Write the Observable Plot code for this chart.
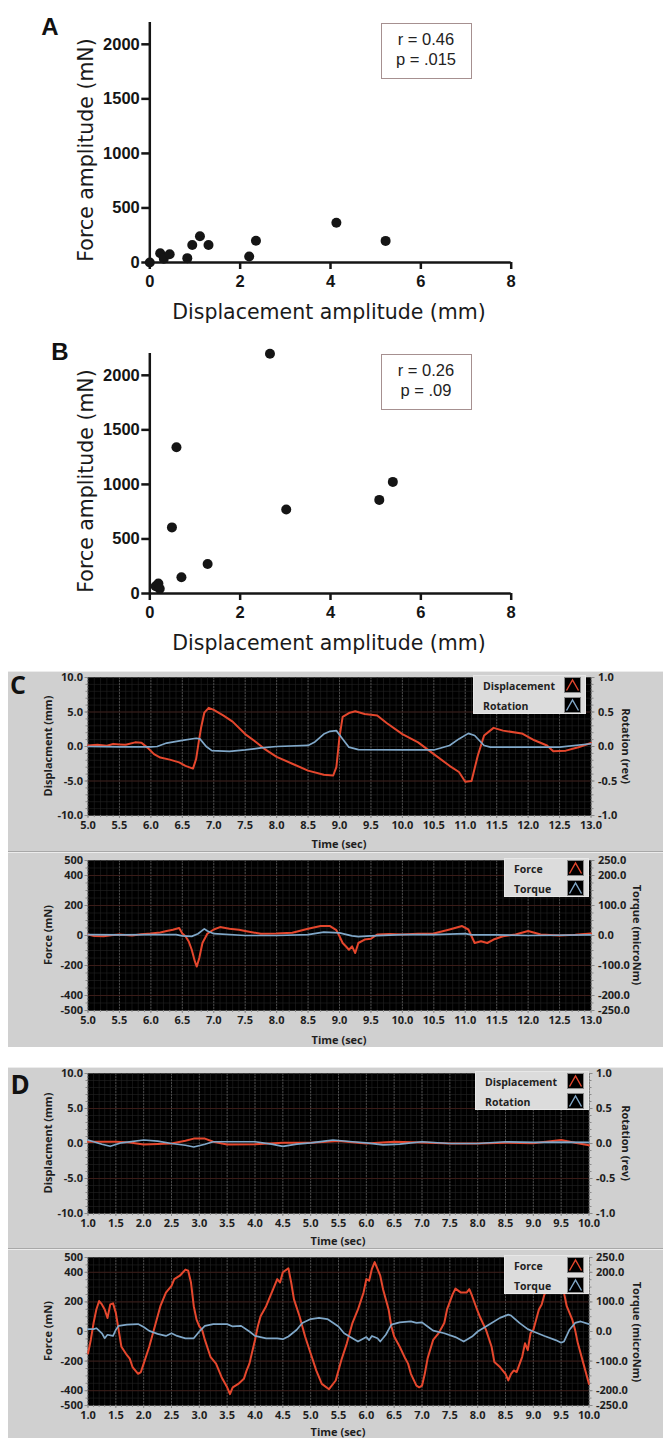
<!DOCTYPE html>
<html><head><meta charset="utf-8">
<script src="https://cdn.jsdelivr.net/npm/d3@7"></script>
<script src="https://cdn.jsdelivr.net/npm/@observablehq/plot@0.6"></script>
<style>
body{margin:0;background:#fff;}
#root{position:relative;width:663px;height:1438px;overflow:hidden;background:#fff;}
.lbl{position:absolute;white-space:nowrap;line-height:1;transform-origin:center center;}
</style>
</head><body><div id="root"></div>
<script>
// ---------- DATA ----------
// Panel A
const aDisp  = [0, 0.23, 0.31, 0.44, 0.83, 0.94, 1.11, 1.30, 2.20, 2.35, 4.13, 5.22];
const aForce = [0, 85, 35, 76, 40, 160, 240, 160, 55, 200, 365, 198];
// Panel B
const bDisp  = [0.13, 0.19, 0.22, 0.49, 0.59, 0.70, 1.28, 2.66, 3.02, 5.08, 5.38];
const bForce = [67, 91, 43, 606, 1340, 149, 271, 2198, 770, 858, 1023];
const abXTicks = [0, 2, 4, 6, 8];
const abYTicks = [0, 500, 1000, 1500, 2000];

// Panel C top: displacement (mm) and rotation (rev) vs time (s)
const cDisp = [[5.0,0.15],[5.15,0.25],[5.3,0.1],[5.4,0.35],[5.5,0.3],[5.6,0.25],[5.75,0.6],[5.85,0.55],[5.95,-0.2],[6.05,-1.1],[6.15,-1.6],[6.3,-1.9],[6.45,-2.3],[6.55,-2.8],[6.67,-3.2],[6.72,-1.8],[6.76,0.6],[6.8,2.8],[6.85,4.9],[6.92,5.6],[7.0,5.3],[7.15,4.5],[7.3,3.6],[7.5,1.8],[7.65,0.8],[7.8,-0.3],[8.0,-1.5],[8.25,-2.5],[8.5,-3.5],[8.75,-4.1],[8.9,-4.2],[8.95,-3.0],[9.0,1.4],[9.05,4.3],[9.15,4.85],[9.25,5.1],[9.4,4.7],[9.6,4.5],[9.75,3.4],[10.0,1.8],[10.25,0.6],[10.5,-1.1],[10.75,-2.8],[10.9,-3.7],[11.0,-5.1],[11.1,-5.0],[11.2,-1.3],[11.3,1.6],[11.45,2.7],[11.6,2.3],[11.9,1.9],[12.1,0.9],[12.3,0.15],[12.4,-0.7],[12.6,-0.6],[12.8,-0.1],[13.0,0.5]];
const cRot = [[5.0,0.0],[5.5,-0.005],[6.0,-0.005],[6.1,0.0],[6.25,0.05],[6.5,0.09],[6.72,0.12],[6.78,0.11],[6.88,0.0],[6.97,-0.06],[7.25,-0.07],[7.5,-0.05],[7.75,-0.02],[8.0,0.0],[8.5,0.015],[8.6,0.06],[8.75,0.18],[8.85,0.22],[8.95,0.23],[9.05,0.11],[9.15,-0.01],[9.3,-0.045],[10.0,-0.05],[10.5,-0.05],[10.75,0.015],[10.9,0.11],[11.05,0.19],[11.15,0.16],[11.3,0.015],[11.4,-0.01],[12.0,-0.01],[12.5,-0.01],[13.0,0.04]];
// Panel C bottom: force (mN) and torque (microNm)
const cForce = [[5.0,7],[5.1,-3],[5.25,-5],[5.4,4],[5.5,7],[5.7,0],[5.85,9],[6.0,13],[6.15,20],[6.25,30],[6.35,38],[6.45,50],[6.5,13],[6.55,-5],[6.6,-38],[6.65,-95],[6.7,-173],[6.73,-207],[6.77,-150],[6.82,-50],[6.9,13],[7.0,40],[7.1,56],[7.25,45],[7.4,38],[7.5,30],[7.75,11],[8.0,13],[8.25,18],[8.5,45],[8.7,63],[8.85,63],[8.95,36],[9.0,-5],[9.05,-50],[9.1,-72],[9.15,-95],[9.2,-72],[9.25,-117],[9.3,-50],[9.4,-27],[9.5,-22],[9.6,7],[9.8,10],[10.0,7],[10.25,12],[10.5,13],[10.75,40],[10.95,63],[11.05,40],[11.1,-5],[11.15,-50],[11.25,-38],[11.35,-50],[11.45,-27],[11.6,-5],[11.8,7],[12.0,30],[12.2,7],[12.5,0],[12.75,5],[13.0,13]];
const cTorque = [[5.0,3],[5.5,2],[6.0,3],[6.4,3],[6.5,-1],[6.65,-3],[6.75,6],[6.85,22],[6.9,15],[7.0,6],[7.5,0],[8.0,0],[8.5,3],[8.75,11],[9.0,9],[9.2,-1],[9.3,-4],[9.5,-1],[10.0,3],[10.5,3],[11.0,6],[11.1,2],[11.5,2],[12.0,0],[13.0,2]];
// Panel D top
const dDisp = [[1.0,0.25],[1.5,0.25],[1.75,0.15],[2.0,-0.15],[2.5,0.0],[2.75,0.4],[2.9,0.7],[3.1,0.7],[3.25,0.25],[3.5,-0.15],[4.0,-0.1],[4.5,0.1],[5.0,0.1],[5.5,0.35],[6.0,0.0],[6.5,0.25],[7.0,0.15],[7.5,0.0],[8.0,0.0],[8.5,0.1],[9.0,0.05],[9.5,0.5],[9.75,0.1],[10.0,-0.25]];
const dRot = [[1.0,0.05],[1.25,-0.01],[1.4,-0.04],[1.6,0.01],[2.0,0.05],[2.25,0.035],[2.5,0.0],[2.75,-0.025],[2.9,-0.05],[3.1,-0.01],[3.25,0.025],[3.5,0.025],[4.0,0.025],[4.3,-0.01],[4.5,-0.04],[4.75,-0.01],[5.0,0.01],[5.25,0.035],[5.4,0.05],[5.75,0.025],[6.0,0.01],[6.3,-0.02],[6.6,-0.01],[7.0,0.025],[7.5,0.0],[8.0,0.0],[8.5,0.025],[9.0,0.015],[9.5,0.02],[10.0,0.015]];
// Panel D bottom
const dForce = [[1.0,-149],[1.05,-57],[1.1,57],[1.15,149],[1.2,206],[1.25,183],[1.3,149],[1.35,91],[1.4,183],[1.45,190],[1.5,126],[1.55,11],[1.6,-103],[1.7,-160],[1.75,-183],[1.8,-240],[1.9,-286],[1.95,-274],[2.0,-217],[2.1,-103],[2.2,34],[2.3,171],[2.4,263],[2.5,309],[2.55,354],[2.65,377],[2.75,418],[2.8,411],[2.85,331],[2.9,171],[2.95,80],[3.0,34],[3.05,11],[3.1,-57],[3.2,-171],[3.3,-217],[3.4,-309],[3.5,-377],[3.55,-423],[3.6,-377],[3.7,-354],[3.8,-320],[3.85,-263],[3.9,-217],[4.0,-57],[4.05,34],[4.1,103],[4.2,171],[4.3,263],[4.4,354],[4.45,331],[4.5,400],[4.6,427],[4.65,331],[4.7,217],[4.8,103],[4.9,-34],[5.0,-149],[5.1,-263],[5.2,-354],[5.33,-390],[5.45,-331],[5.55,-194],[5.65,-80],[5.75,57],[5.85,149],[5.95,263],[6.0,354],[6.05,343],[6.1,423],[6.15,469],[6.2,423],[6.25,377],[6.3,286],[6.4,149],[6.45,34],[6.5,-34],[6.6,-103],[6.7,-183],[6.75,-217],[6.8,-286],[6.9,-366],[6.95,-377],[7.0,-366],[7.05,-286],[7.1,-183],[7.2,-57],[7.3,-11],[7.4,57],[7.45,149],[7.55,251],[7.6,290],[7.7,263],[7.8,263],[7.85,286],[7.9,240],[8.0,137],[8.05,91],[8.15,11],[8.25,-103],[8.3,-206],[8.4,-240],[8.5,-286],[8.55,-331],[8.6,-286],[8.65,-263],[8.7,-274],[8.8,-171],[8.85,-80],[8.9,-126],[8.95,-11],[9.0,11],[9.05,80],[9.1,149],[9.15,183],[9.2,251],[9.25,274],[9.3,330],[9.4,370],[9.5,320],[9.55,263],[9.6,171],[9.7,80],[9.75,11],[9.8,-80],[9.9,-217],[10.0,-354]];
const dTorque = [[1.0,8],[1.1,8],[1.15,11],[1.25,-6],[1.3,-23],[1.35,-11],[1.45,-15],[1.5,6],[1.55,19],[1.7,23],[1.9,25],[2.0,15],[2.1,2],[2.25,-8],[2.4,-15],[2.5,-6],[2.6,-15],[2.75,-23],[2.9,-23],[3.0,0],[3.1,19],[3.25,25],[3.5,25],[3.6,17],[3.75,19],[3.9,0],[4.0,-15],[4.2,-23],[4.4,-23],[4.5,-26],[4.6,-17],[4.75,6],[4.85,29],[5.0,42],[5.15,46],[5.3,42],[5.5,17],[5.6,-6],[5.75,-23],[5.85,-34],[6.0,-19],[6.05,-29],[6.1,-15],[6.2,-23],[6.25,-34],[6.35,-11],[6.45,23],[6.6,31],[6.8,34],[6.9,29],[7.0,31],[7.1,17],[7.2,3],[7.4,-6],[7.6,-19],[7.75,-34],[7.9,-17],[8.0,0],[8.2,23],[8.4,46],[8.55,57],[8.6,54],[8.75,29],[8.9,8],[9.0,0],[9.2,-15],[9.4,-29],[9.5,-38],[9.55,-34],[9.65,6],[9.75,29],[9.85,34],[10.0,25]];

// tick values
const cTimeTicks = d3.range(5, 13.001, 0.5);
const dTimeTicks = d3.range(1, 10.001, 0.5);
const dispTicks = [-10, -5, 0, 5, 10];
const forceTicks = [-500, -400, -200, 0, 200, 400, 500];

// ---------- HELPERS ----------
const root = document.getElementById("root");
const RED = "#e5472d", BLUE = "#80a8c9";
const LV_FONT = "'Open Sans','Noto Sans',sans-serif";
function place(el, left, top) {
  el.style.position = "absolute"; el.style.left = left + "px"; el.style.top = top + "px";
  root.append(el); return el;
}
function label(text, cx, cy, css, rot = 0) {
  const d = document.createElement("div");
  d.className = "lbl"; d.textContent = text;
  d.style.cssText += css;
  d.style.left = cx + "px"; d.style.top = cy + "px";
  d.style.transform = `translate(-50%,-50%) rotate(${rot}deg)`;
  root.append(d); return d;
}
function box(left, top, w, h, css) {
  const d = document.createElement("div");
  d.style.cssText = `position:absolute;left:${left}px;top:${top}px;width:${w}px;height:${h}px;box-sizing:border-box;` + css;
  root.append(d); return d;
}
const fmt1 = d => d.toFixed(1);
const fmt0 = d => d.toFixed(0);

// ---------- SCATTER PANELS ----------
function scatter(xs, ys) {
  const data = xs.map((x, i) => ({x, y: ys[i]}));
  return Plot.plot({
    width: 540, height: 331,
    marginLeft: 149.3, marginRight: 29.3, marginTop: 22, marginBottom: 69,
    x: {domain: [0, 8]}, y: {domain: [0, 2200]},
    style: "background:transparent;overflow:visible;font-family:'Liberation Sans',Arial,sans-serif;color:#151515;",
    marks: [
      Plot.axisX(abXTicks, {tickSize: 7, tickPadding: 6, strokeWidth: 2.5, fontSize: 16.5, fontWeight: "bold", tickFormat: d => String(d), label: null}),
      Plot.axisY(abYTicks, {tickSize: 8, tickPadding: 2, strokeWidth: 2.5, fontSize: 16.5, fontWeight: "bold", tickFormat: d => String(d), label: null}),
      Plot.ruleY([0], {stroke: "#151515", strokeWidth: 2.5}),
      Plot.ruleX([0], {stroke: "#151515", strokeWidth: 2.5}),
      Plot.dot(data, {x: "x", y: "y", r: 5, fill: "#151515", stroke: null})
    ]
  });
}
const titleCss = "font-family:'DejaVu Sans',sans-serif;font-size:20.5px;color:#1a1a1a;";
function scatterPanel(xs, ys, dy, letter, lx, ly, r, p) {
  place(scatter(xs, ys), 0, dy);
  label(letter, lx, ly, "font-family:'Liberation Sans',Arial,sans-serif;font-weight:bold;font-size:24px;color:#111;");
  box(380.5, 23 + dy, 91.5, 55.5, "border:1.5px solid #a69090;background:#fff;");
  label(r, 426, 39 + dy, "font-family:'Liberation Sans',Arial,sans-serif;font-size:16.5px;color:#222;");
  label(p, 426, 59 + dy, "font-family:'Liberation Sans',Arial,sans-serif;font-size:16.5px;color:#222;");
  label("Force amplitude (mN)", 85.5, 150 + dy, titleCss, -90);
  label("Displacement amplitude (mm)", 329, 312 + dy, titleCss);
}
scatterPanel(aDisp, aForce, 0, "A", 50, 27, "r = 0.46", "p = .015");
scatterPanel(bDisp, bForce, 331, "B", 60, 352, "r = 0.26", "p = .09");

// ---------- LABVIEW-STYLE PANELS ----------
box(8, 671, 655, 376, "background:#d0d0d0;border-top:1px solid #ececec;");
box(8, 1067, 655, 371, "background:#d0d0d0;border-top:1px solid #ececec;");
box(8, 851, 655, 2, "border-top:1px solid #a8a8a8;border-bottom:1px solid #ececec;");
box(8, 1248, 655, 2, "border-top:1px solid #a8a8a8;border-bottom:1px solid #ececec;");

function lv({top, height, mt, mb, mr, xTicks, xMinor, yTicks, yMinor, yGrid, leftFmt, rightFmt, red, blue, blueK, yDomain}) {
  const xDomain = [xTicks[0], xTicks[xTicks.length - 1]];
  const svg = Plot.plot({
    width: 663, height, marginLeft: 87.5, marginRight: mr, marginTop: mt, marginBottom: mb,
    x: {domain: xDomain}, y: {domain: yDomain},
    style: `background:transparent;overflow:visible;font-family:${LV_FONT};font-weight:bold;color:#1e1e1e;`,
    marks: [
      Plot.frame({fill: "#000"}),
      Plot.ruleX(xMinor, {stroke: "#242424", strokeWidth: 0.6}),
      Plot.ruleY(yMinor, {stroke: "#242424", strokeWidth: 0.6}),
      Plot.ruleX(xTicks, {stroke: "#555", strokeWidth: 0.8, strokeDasharray: "2,1"}),
      Plot.ruleY(yGrid, {stroke: "#3e1d19", strokeWidth: 0.9}),
      Plot.line(red, {x: d => d[0], y: d => d[1], stroke: RED, strokeWidth: 2}),
      Plot.line(blue, {x: d => d[0], y: d => d[1] * blueK, stroke: BLUE, strokeWidth: 1.7}),
      Plot.axisX(xMinor, {tickSize: 2, tickFormat: () => "", stroke: "#8a8a8a", label: null}),
      Plot.axisX(xTicks, {tickSize: 3, tickPadding: 3, tickFormat: fmt1, stroke: "#8a8a8a", fontSize: 11, fontWeight: "bold", label: null}),
      Plot.axisY(yMinor, {tickSize: 2, tickFormat: () => "", stroke: "#8a8a8a", label: null}),
      Plot.axisY(yMinor, {anchor: "right", tickSize: 2, tickFormat: () => "", stroke: "#8a8a8a", label: null}),
      Plot.axisY(yTicks, {tickSize: 3, tickPadding: 2, tickFormat: leftFmt, stroke: "#8a8a8a", fontSize: 11, fontWeight: "bold", label: null}),
      Plot.axisY(yTicks, {anchor: "right", tickSize: 3, tickPadding: 4, tickFormat: rightFmt, stroke: "#8a8a8a", fontSize: 11, fontWeight: "bold", label: null})
    ]
  });
  place(svg, 0, top);
}
function icon(color) {
  return `<svg width="17" height="16" style="display:block"><rect x="0.5" y="0.5" width="16" height="15" fill="#000" stroke="#8a8a8a"/><polyline points="2.5,13.5 8.5,3 14.5,13.5" fill="none" stroke="${color}" stroke-width="1.4"/></svg>`;
}
function legend(left, top, w, names) {
  const b = box(left, top, w, 39, "background:#dcdcdc;border:1px solid #e8e8e8;");
  names.forEach((n, i) => {
    const t = document.createElement("div");
    t.textContent = n;
    t.style.cssText = `position:absolute;left:9px;top:${10 + 20 * i}px;transform:translateY(-50%);font-family:${LV_FONT};font-weight:bold;font-size:10.5px;color:#222;line-height:1;white-space:nowrap;`;
    b.append(t);
    const ic = document.createElement("div");
    ic.innerHTML = icon(i === 0 ? RED : BLUE);
    ic.style.cssText = `position:absolute;right:4px;top:${1 + 20 * i}px;`;
    b.append(ic);
  });
}
const lvTitle = `font-family:${LV_FONT};font-weight:bold;font-size:11px;color:#1e1e1e;`;

// C top
lv({top: 671, height: 180, mt: 6, mb: 36, mr: 72.5, xTicks: cTimeTicks, xMinor: d3.range(5, 13.001, 0.1),
    yDomain: [-10, 10], yTicks: dispTicks, yMinor: d3.range(-10, 10.001, 1), yGrid: [-5, 5],
    leftFmt: fmt1, rightFmt: d => (d / 10).toFixed(1), red: cDisp, blue: cRot, blueK: 10});
legend(473, 675, 113, ["Displacement", "Rotation"]);
label("Displacment (mm)", 47, 746, lvTitle, -90);
label("Rotation (rev)", 626, 746, lvTitle, 90);
label("Time (sec)", 339, 843, lvTitle);
label("C", 18, 684, `font-family:${LV_FONT};font-weight:bold;font-size:25px;color:#111;`);

// C bottom
lv({top: 851, height: 196, mt: 9, mb: 37, mr: 72.5, xTicks: cTimeTicks, xMinor: d3.range(5, 13.001, 0.1),
    yDomain: [-500, 500], yTicks: forceTicks, yMinor: d3.range(-500, 500.001, 50), yGrid: [-400, -200, 200, 400],
    leftFmt: fmt0, rightFmt: d => (d / 2).toFixed(1), red: cForce, blue: cTorque, blueK: 2});
legend(504, 858, 85, ["Force", "Torque"]);
label("Force (mN)", 47, 935, lvTitle, -90);
label("Torque (microNm)", 637, 935, lvTitle, 90);
label("Time (sec)", 339, 1039, lvTitle);

// D top
lv({top: 1067, height: 181, mt: 6, mb: 35, mr: 74.5, xTicks: dTimeTicks, xMinor: d3.range(1, 10.001, 0.1),
    yDomain: [-10, 10], yTicks: dispTicks, yMinor: d3.range(-10, 10.001, 1), yGrid: [-5, 5],
    leftFmt: fmt1, rightFmt: d => (d / 10).toFixed(1), red: dDisp, blue: dRot, blueK: 10});
legend(475, 1071, 114, ["Displacement", "Rotation"]);
label("Displacment (mm)", 47, 1143, lvTitle, -90);
label("Rotation (rev)", 626, 1143, lvTitle, 90);
label("Time (sec)", 338, 1240, lvTitle);
label("D", 20, 1084, `font-family:${LV_FONT};font-weight:bold;font-size:26px;color:#111;`);

// D bottom
lv({top: 1248, height: 190, mt: 9, mb: 33, mr: 74.5, xTicks: dTimeTicks, xMinor: d3.range(1, 10.001, 0.1),
    yDomain: [-500, 500], yTicks: forceTicks, yMinor: d3.range(-500, 500.001, 50), yGrid: [-400, -200, 200, 400],
    leftFmt: fmt0, rightFmt: d => (d / 2).toFixed(1), red: dForce, blue: dTorque, blueK: 2});
legend(504, 1255, 85, ["Force", "Torque"]);
label("Force (mN)", 47, 1331, lvTitle, -90);
label("Torque (microNm)", 637, 1332, lvTitle, 90);
label("Time (sec)", 338, 1431, lvTitle);
</script></body></html>
